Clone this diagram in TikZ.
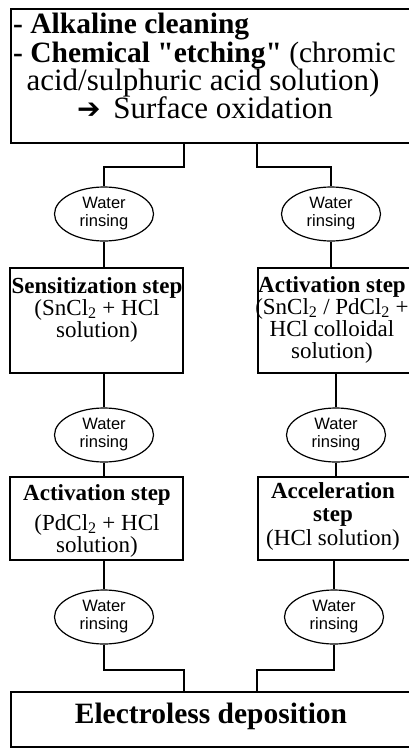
\documentclass[tikz,border=0pt]{standalone}
\usepackage{fontspec}
\setmainfont{Liberation Serif}[Ligatures=TeXOff]
\newfontfamily\rinsefont{Liberation Sans}
\newfontfamily\arrowfont{DejaVu Sans}
\usetikzlibrary{shapes.geometric}

\tikzset{
  stepbox/.style={draw, line width=2.4pt, inner sep=0pt},
  rinse/.style={draw, ellipse, line width=1.2pt, minimum width=99pt,
    minimum height=54pt, inner sep=0pt, align=center,
    font=\rinsefont\fontsize{16.5}{18}\selectfont},
  link/.style={line width=1.6pt},
  boxtext/.style={align=center, inner sep=0pt, anchor=base,
    font=\fontsize{23}{22}\selectfont},
  bigtext/.style={inner sep=0pt, font=\fontsize{29.5}{29}\selectfont}
}

\begin{document}
\begin{tikzpicture}[x=1pt,y=-1pt]
  \useasboundingbox (0,0) rectangle (408,748);

  % Define the boxes
  \node[stepbox, minimum width=401pt, minimum height=134pt] (prep) at (211.5,76) {};
  \node[stepbox, minimum width=173pt, minimum height=105pt] (sens) at (96.5,320.5) {};
  \node[stepbox, minimum width=154pt, minimum height=105pt] (actA) at (335,320.5) {};
  \node[stepbox, minimum width=173pt, minimum height=83pt] (actB) at (96.5,518.5) {};
  \node[stepbox, minimum width=154pt, minimum height=83pt] (accel) at (335,518.5) {};
  \node[stepbox, minimum width=401pt, minimum height=55pt] (depo) at (211.5,719.5) {};

  % Box texts (base = last line)
  \node[bigtext, anchor=base west] (prepA) at (13,33) {\textbf{- Alkaline cleaning}};
  \node[bigtext, anchor=base west] (prepB) at (13,62) {\textbf{- Chemical "etching"} (chromic};
  \node[bigtext, anchor=base, font=\fontsize{31}{29}\selectfont] (prepC) at (203,90)
    {acid/sulphuric acid solution)};
  \node[bigtext, anchor=base, font=\fontsize{31}{29}\selectfont] (prepD) at (205,118)
    {{\arrowfont\fontsize{28}{28}\selectfont ➔}\, Surface oxidation};
  \node[boxtext] (sensT) at (97,337)
    {\textbf{Sensitization step}\\(SnCl\textsubscript{2} + HCl\\solution)};
  \node[boxtext] (actAT) at (332,358)
    {\textbf{Activation step}\\(SnCl\textsubscript{2} / PdCl\textsubscript{2} +\\HCl colloidal\\solution)};
  \node[boxtext] (actBT) at (97,552)
    {\textbf{Activation step}\\[8pt](PdCl\textsubscript{2} + HCl\\solution)};
  \node[boxtext, font=\fontsize{23}{23.5}\selectfont] (accelT) at (333,545)
    {\textbf{Acceleration}\\\textbf{step}\\(HCl solution)};
  \node[bigtext, anchor=base] (depoT) at (211,723) {\textbf{Electroless deposition}};

  % Rinsing stages
  \node[rinse] (rinseA) at (104,214) {Water\\rinsing};
  \node[rinse] (rinseB) at (331,214) {Water\\rinsing};
  \node[rinse] (rinseC) at (104,435) {Water\\rinsing};
  \node[rinse] (rinseD) at (336,435) {Water\\rinsing};
  \node[rinse] (rinseE) at (104,617) {Water\\rinsing};
  \node[rinse] (rinseF) at (334,617) {Water\\rinsing};

  % Connect the nodes
  \coordinate (forkT) at (0,167);
  \coordinate (forkB) at (0,670);
  \draw[link] (prep.south -| sens.east) |- (rinseA.north |- forkT) -- (rinseA.north);
  \draw[link] (prep.south -| actA.west) |- (rinseB.north |- forkT) -- (rinseB.north);
  \draw[link] (rinseA.south) -- (rinseA.south |- sens.north);
  \draw[link] (rinseB.south) -- (rinseB.south |- actA.north);
  \draw[link] (sens.south -| rinseC.north) -- (rinseC.north);
  \draw[link] (actA.south -| rinseD.north) -- (rinseD.north);
  \draw[link] (rinseC.south) -- (rinseC.south |- actB.north);
  \draw[link] (rinseD.south) -- (rinseD.south |- accel.north);
  \draw[link] (actB.south -| rinseE.north) -- (rinseE.north);
  \draw[link] (accel.south -| rinseF.north) -- (rinseF.north);
  \draw[link] (rinseE.south) -- (rinseE.south |- forkB) -| (depo.north -| actB.east);
  \draw[link] (rinseF.south) -- (rinseF.south |- forkB) -| (depo.north -| accel.west);
\end{tikzpicture}
\end{document}
